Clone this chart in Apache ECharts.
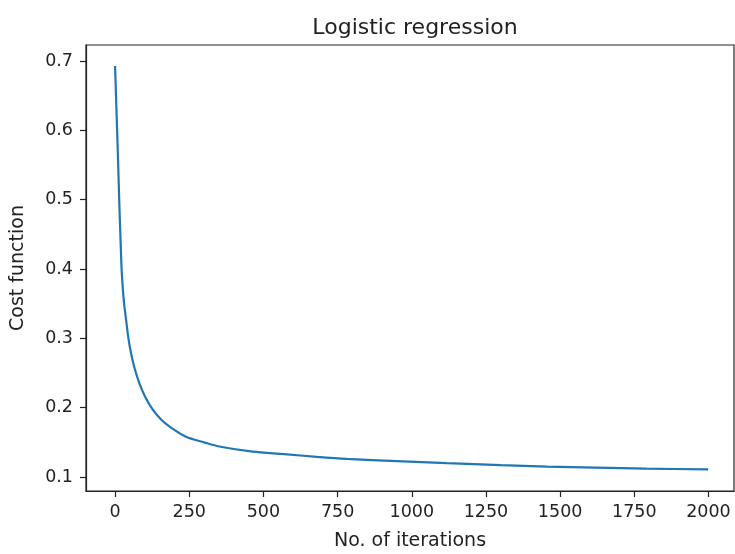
<!DOCTYPE html>
<html>
<head>
<meta charset="utf-8">
<title>Logistic regression</title>
<script src="https://cdn.jsdelivr.net/npm/echarts@6/dist/echarts.min.js"></script>
<style>
  html, body { margin: 0; padding: 0; background: #fff; }
  #chart { width: 735px; height: 554px; }
</style>
</head>
<body>
<div id="chart"></div>
<script>
const iters = [0, 5, 10, 15, 19, 22, 26, 30, 37, 45, 54, 65, 82, 100, 127, 155, 183, 239, 300, 351, 464, 570, 680, 781, 950, 1118, 1300, 1455, 1620, 1791, 1999]
const cost = [0.693, 0.625, 0.557, 0.485, 0.435, 0.40, 0.372, 0.352, 0.327, 0.300, 0.278, 0.258, 0.235, 0.217, 0.197, 0.183, 0.173, 0.158, 0.150, 0.144, 0.1365, 0.133, 0.129, 0.126, 0.123, 0.120, 0.117, 0.115, 0.1135, 0.112, 0.111]
const xTicks = [0, 250, 500, 750, 1000, 1250, 1500, 1750, 2000]
const yTicks = [0.1, 0.2, 0.3, 0.4, 0.5, 0.6, 0.7]

const font = 'DejaVu Sans'
const ink = '#222'

const chart = echarts.init(document.getElementById('chart'))
chart.setOption({
  animation: false,
  title: {
    text: 'Logistic regression',
    left: 410,
    top: 12,
    textAlign: 'center',
    textStyle: { fontFamily: font, fontSize: 22, fontWeight: 'normal', color: ink }
  },
  grid: {
    left: 86, right: 1, top: 45, bottom: 63,
    outerBoundsMode: 'none',
    show: true, borderColor: ink, borderWidth: 1.2, backgroundColor: '#fff'
  },
  xAxis: {
    type: 'value',
    min: -98,
    max: 2086,
    name: 'No. of iterations',
    nameLocation: 'middle',
    nameGap: 41,
    nameTextStyle: { fontFamily: font, fontSize: 19, color: ink },
    axisLine: { show: true, onZero: false, lineStyle: { color: ink, width: 1.2 } },
    axisTick: { show: true, length: 6, customValues: xTicks, lineStyle: { color: ink, width: 1.2 } },
    axisLabel: {
      customValues: xTicks, margin: 12, fontFamily: font, fontSize: 17.5, color: ink,
      formatter: (v) => String(v)
    },
    splitLine: { show: false }
  },
  yAxis: {
    type: 'value',
    min: 0.0798,
    max: 0.7231,
    name: 'Cost function',
    nameLocation: 'middle',
    nameGap: 58,
    nameTextStyle: { fontFamily: font, fontSize: 19, color: ink },
    axisLine: { show: true, onZero: false, lineStyle: { color: ink, width: 1.2 } },
    axisTick: { show: true, length: 6, customValues: yTicks, lineStyle: { color: ink, width: 1.2 } },
    axisLabel: {
      customValues: yTicks, margin: 13, fontFamily: font, fontSize: 17.5, color: ink,
      formatter: (v) => v.toFixed(1)
    },
    splitLine: { show: false }
  },
  series: [
    {
      type: 'line',
      data: iters.map((x, i) => [x, cost[i]]),
      smooth: 0.3,
      showSymbol: false,
      lineStyle: { color: '#1f77b4', width: 2.2 }
    }
  ]
})
</script>
</body>
</html>
